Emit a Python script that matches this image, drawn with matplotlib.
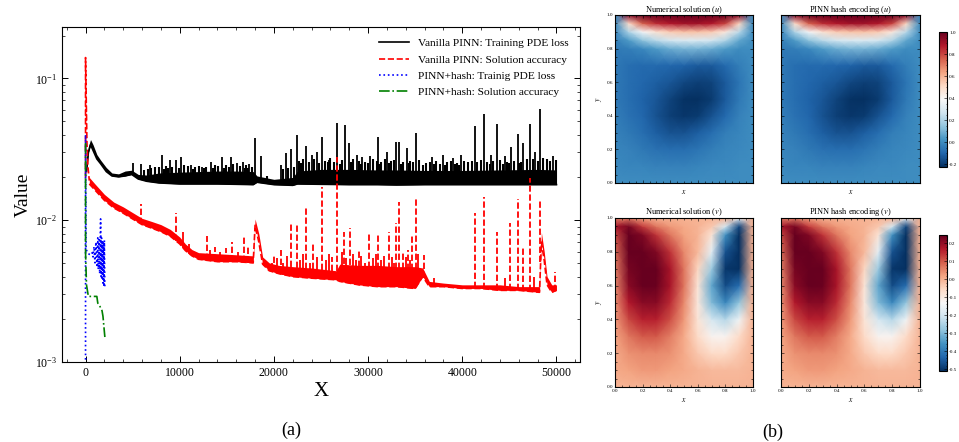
import numpy as np
import matplotlib
matplotlib.use('Agg')
import matplotlib.pyplot as plt
import matplotlib.ticker as mticker

plt.rcParams.update({
    'font.family': 'serif',
    'font.serif': ['Liberation Serif', 'DejaVu Serif'],
    'mathtext.fontset': 'stix',
    'axes.linewidth': 0.8,
})

# ---------------------------------------------------------------- data (a)
# Vanilla PINN: training PDE loss (noise band + spikes)
black_x  = [100, 300, 530, 800, 1200, 1600, 2200, 2800, 3500, 4200, 4900, 5600, 6500, 7800,
            10000, 12000, 14000, 16000, 17800, 18200, 20000, 22000, 22500, 25000, 28000,
            31000, 33000, 36000, 40000, 44000, 48000, 50000]
black_lo = [0.022, 0.030, 0.034, 0.031, 0.027, 0.025, 0.022, 0.0205, 0.0202, 0.0205, 0.021,
            0.0195, 0.0188, 0.0183, 0.018, 0.018, 0.018, 0.0179, 0.0178, 0.0185, 0.0178, 0.0176,
            0.018, 0.0179, 0.0178, 0.0178, 0.0177, 0.0178, 0.0178, 0.0178, 0.0178, 0.0178]
black_hi = [0.024, 0.033, 0.037, 0.034, 0.029, 0.0265, 0.0235, 0.0215, 0.0212, 0.0222, 0.0225,
            0.021, 0.0208, 0.0215, 0.0218, 0.022, 0.0222, 0.0222, 0.022, 0.0205, 0.0194, 0.02,
            0.0222, 0.0228, 0.0228, 0.0226, 0.0226, 0.0224, 0.0224, 0.0226, 0.0228, 0.0226]
black_spike_x = [5000, 5850, 6800, 8100, 8950, 9600, 10100, 11200, 12400, 13300, 14500, 15400,
                 16100, 16700, 17400, 18000, 18600, 20700, 21300, 21800, 22400, 23400, 24000,
                 24600, 25100, 25900, 26700, 27600, 28000, 28800, 29400, 30200, 31000, 32000,
                 33000, 33300, 34100, 35100, 36800, 38000, 39000, 39900, 41300, 42300, 43000,
                 43700, 44500, 45200, 45900, 46500, 47200, 47700, 48300, 49600]
black_spike_y = [0.0252, 0.0248, 0.0244, 0.0287, 0.0265, 0.0265, 0.0278, 0.0246, 0.0236, 0.0256,
                 0.0278, 0.0278, 0.0252, 0.0255, 0.0248, 0.0378, 0.0282, 0.0244, 0.0297, 0.0316,
                 0.0397, 0.0332, 0.029, 0.0301, 0.0385, 0.0265, 0.0482, 0.0467, 0.0348, 0.029,
                 0.0278, 0.0285, 0.0385, 0.0301, 0.0355, 0.0355, 0.0321, 0.041, 0.0278, 0.029,
                 0.0275, 0.0288, 0.046, 0.0557, 0.029, 0.0475, 0.0285, 0.0327, 0.0403, 0.0348,
                 0.048, 0.03, 0.0605, 0.0283]
# dense small spikes that make up the ragged top of the band
black_fuzz_x = [6200, 6600, 7000, 7400, 7800, 8300, 8500, 8800, 9200, 9900, 10500, 10900, 11400,
                11600, 12000, 12600, 12800, 13500, 13700, 14100, 14700, 14900, 15200, 15700,
                16400, 16900, 17000, 17200, 17700, 19300, 21000, 21500, 22100, 22700, 22900,
                23100, 23700, 24300, 24800, 25400, 25700, 26000, 26400, 27000, 27200, 28200,
                28400, 29000, 29200, 29700, 30000, 30500, 30900, 31200, 31400, 31800, 32200,
                32400, 32800, 33500, 33700, 34300, 34500, 34800, 35400, 35800, 36200, 36600,
                37000, 37200, 37600, 38200, 38400, 38800, 39200, 39400, 39700, 40200, 40600,
                41000, 41600, 42000, 42600, 42900, 43300, 44000, 44300, 44800, 45000, 45500,
                46000, 46200, 46900, 47500, 48000, 48600, 49000, 49300, 49900]
black_fuzz_y = [0.0225, 0.0228, 0.0232, 0.0236, 0.0238, 0.023, 0.0242, 0.0234, 0.0238, 0.0232,
                0.0245, 0.024, 0.023, 0.0236, 0.0242, 0.0232, 0.0238, 0.0234, 0.0246, 0.024,
                0.0234, 0.0244, 0.0236, 0.0248, 0.024, 0.0232, 0.0246, 0.0235, 0.0238, 0.0205,
                0.0228, 0.0235, 0.0236, 0.0262, 0.0252, 0.0272, 0.0258, 0.0268, 0.0252, 0.0262,
                0.0255, 0.0275, 0.0258, 0.025, 0.0266, 0.0255, 0.027, 0.0262, 0.025, 0.0258,
                0.0252, 0.027, 0.0262, 0.025, 0.0255, 0.0268, 0.0252, 0.026, 0.0265, 0.025,
                0.0258, 0.0252, 0.0262, 0.0255, 0.0265, 0.0245, 0.0252, 0.0258, 0.0248, 0.0262,
                0.025, 0.0245, 0.0256, 0.0262, 0.0248, 0.0252, 0.0245, 0.026, 0.0255, 0.0262,
                0.0258, 0.0266, 0.0255, 0.0248, 0.026, 0.0265, 0.025, 0.0258, 0.0252, 0.0262,
                0.0252, 0.0256, 0.0268, 0.0272, 0.0262, 0.0275, 0.0268, 0.0262, 0.0265]

# Vanilla PINN: solution accuracy
red_head_x = [0, 0, 150, 250, 400]
red_head_y = [0.02, 0.14, 0.035, 0.024, 0.019]
red_x  = [400, 1000, 2000, 3000, 4000, 5000, 6000, 7000, 8000, 9000, 10000, 10600, 11300,
          12000, 14000, 16000, 17800, 18000, 18400, 18800, 19500, 20500, 22000, 24000, 26600,
          27000, 29000, 31000, 33000, 35000, 35800, 36500, 38000, 40000, 42000, 44000, 46000,
          48200, 48400, 48700, 49000, 49500, 50000]
red_lo = [0.018, 0.0163, 0.0138, 0.0122, 0.0112, 0.0102, 0.0093, 0.0088, 0.0083, 0.0077, 0.0068,
          0.0061, 0.0056, 0.0053, 0.0051, 0.0051, 0.005, 0.0092, 0.007, 0.0049, 0.0044, 0.0042,
          0.004, 0.0039, 0.0038, 0.0037, 0.0035, 0.0034, 0.0034, 0.0033, 0.004, 0.0034, 0.0034,
          0.0033, 0.0033, 0.0032, 0.0032, 0.0031, 0.007, 0.0052, 0.0035, 0.0031, 0.0032]
red_hi = [0.020, 0.018, 0.0152, 0.0134, 0.0124, 0.0113, 0.0103, 0.0098, 0.0093, 0.0086, 0.0076,
          0.0068, 0.0062, 0.0059, 0.0058, 0.0057, 0.0056, 0.0102, 0.008, 0.0055, 0.005, 0.0048,
          0.0047, 0.0046, 0.0044, 0.0049, 0.0048, 0.0048, 0.0047, 0.0047, 0.0046, 0.0037, 0.0036,
          0.0035, 0.0035, 0.0035, 0.0034, 0.0034, 0.0082, 0.006, 0.004, 0.0035, 0.0035]
red_spike_x = [5900, 9650, 12900, 13700, 14900, 15500, 16800, 17300, 20000, 20800, 21800, 22400,
               23400, 24200, 25100, 26200, 26700, 27400, 28100, 29000, 30100, 31000, 32200,
               33000, 33300, 33700, 34200, 34700, 35100, 35900, 41300, 42300, 43700, 45100,
               45900, 46500, 47200, 48300, 49800]
red_spike_y = [0.0131, 0.0112, 0.0077, 0.0065, 0.0064, 0.0070, 0.0076, 0.0065, 0.0058, 0.0062,
               0.0097, 0.0095, 0.0124, 0.0068, 0.017, 0.0055, 0.028, 0.0082, 0.0088, 0.0062,
               0.008, 0.0081, 0.0083, 0.0095, 0.0134, 0.006, 0.0062, 0.0078, 0.0145, 0.0057,
               0.0112, 0.0145, 0.0082, 0.0095, 0.014, 0.0065, 0.0198, 0.0138, 0.0043]
red_fuzz_x = [10400, 11000, 13200, 14300, 16200, 19000, 19800, 20300, 21000, 21400, 22800,
              23100, 23800, 24600, 25500, 25800, 27200, 27700, 28400, 28700, 29300, 29700,
              30500, 30800, 31400, 31700, 32500, 32800, 34000, 34400, 35300, 37000, 44500,
              47600]
red_fuzz_y = [0.0082, 0.0068, 0.0062, 0.0060, 0.0060, 0.0052, 0.0050, 0.0054, 0.0050, 0.0056,
              0.0052, 0.0058, 0.0050, 0.0055, 0.0052, 0.0058, 0.0060, 0.0054, 0.0058, 0.0052,
              0.0056, 0.0050, 0.0054, 0.0058, 0.0052, 0.0056, 0.0055, 0.0050, 0.0055, 0.0052,
              0.0058, 0.0039, 0.0039, 0.0040]

# PINN+hash: training PDE loss
blue_x = [0, 0, 60, 300, 500, 700, 800, 900, 1000, 1100, 1200, 1300, 1350, 1450, 1500, 1600,
          1650, 1700, 1750, 1800, 1850, 1900, 1950, 2000, 2050]
blue_y = [0.0009, 0.04, 0.0062, 0.0058, 0.0057, 0.0059, 0.0055, 0.0065, 0.005, 0.007, 0.0048,
          0.0075, 0.0045, 0.0073, 0.0042, 0.0102, 0.004, 0.0075, 0.0038, 0.0072, 0.0036, 0.007,
          0.0034, 0.0072, 0.0033]

# PINN+hash: solution accuracy
green_x = [0, 0, 100, 300, 1200, 1300, 1500, 1600, 1750, 1850, 2050]
green_y = [0.035, 0.0059, 0.0035, 0.0029, 0.0029, 0.0026, 0.0025, 0.0024, 0.0023, 0.0021, 0.0015]

# ---------------------------------------------------------------- data (b)
u_xn = [0, 0.1, 0.2, 0.3, 0.4, 0.5, 0.6, 0.7, 0.8, 0.9, 1.0]
u_yn = [0, 0.1, 0.2, 0.3, 0.4, 0.5, 0.6, 0.7, 0.8, 0.85, 0.9, 0.95, 1.0]
u_grid = [
    [0.0, 0.0, 0.0, 0.0, 0.0, 0.0, 0.0, 0.0, 0.0, 0.0, 0.0],
    [-0.01, -0.02, -0.02, -0.03, -0.03, -0.03, -0.02, -0.01, -0.01, 0.0, 0.0],
    [-0.02, -0.03, -0.05, -0.07, -0.08, -0.08, -0.06, -0.04, -0.02, -0.01, 0.0],
    [-0.03, -0.05, -0.08, -0.12, -0.15, -0.15, -0.12, -0.08, -0.04, -0.02, 0.0],
    [-0.04, -0.07, -0.10, -0.15, -0.19, -0.21, -0.20, -0.15, -0.09, -0.03, 0.0],
    [-0.05, -0.08, -0.11, -0.14, -0.18, -0.22, -0.23, -0.20, -0.13, -0.05, 0.0],
    [-0.05, -0.08, -0.10, -0.12, -0.14, -0.17, -0.19, -0.18, -0.13, -0.06, 0.0],
    [-0.05, -0.08, -0.09, -0.09, -0.10, -0.11, -0.13, -0.13, -0.09, -0.04, 0.0],
    [-0.05, -0.04, -0.01, 0.04, 0.08, 0.10, 0.10, 0.08, 0.04, 0.0, 0.0],
    [-0.04, 0.04, 0.14, 0.22, 0.28, 0.30, 0.30, 0.28, 0.20, 0.07, 0.0],
    [-0.02, 0.20, 0.38, 0.48, 0.54, 0.56, 0.56, 0.54, 0.45, 0.22, 0.0],
    [0.0, 0.50, 0.75, 0.84, 0.88, 0.90, 0.90, 0.88, 0.80, 0.52, 0.0],
    [0.0, 0.95, 1.0, 1.0, 1.0, 1.0, 1.0, 1.0, 1.0, 0.95, 0.0],
]
v_xn = [0, 0.1, 0.2, 0.3, 0.4, 0.5, 0.6, 0.7, 0.8, 0.9, 1.0]
v_yn = [0, 0.1, 0.2, 0.3, 0.4, 0.5, 0.6, 0.7, 0.8, 0.9, 0.95, 1.0]
v_grid = [
    [0.0, 0.0, 0.0, 0.0, 0.0, 0.0, 0.0, 0.0, 0.0, 0.0, 0.0],
    [0.01, 0.02, 0.03, 0.03, 0.02, 0.01, 0.0, -0.01, -0.01, -0.01, 0.0],
    [0.01, 0.04, 0.05, 0.05, 0.04, 0.01, -0.03, -0.06, -0.06, -0.03, 0.0],
    [0.02, 0.07, 0.10, 0.10, 0.06, 0.01, -0.06, -0.12, -0.12, -0.06, 0.0],
    [0.03, 0.12, 0.16, 0.16, 0.11, 0.03, -0.08, -0.20, -0.24, -0.15, 0.0],
    [0.04, 0.17, 0.21, 0.21, 0.15, 0.05, -0.09, -0.30, -0.38, -0.28, 0.0],
    [0.05, 0.21, 0.25, 0.24, 0.18, 0.07, -0.08, -0.33, -0.47, -0.42, 0.0],
    [0.06, 0.23, 0.26, 0.25, 0.18, 0.07, -0.05, -0.27, -0.50, -0.52, 0.0],
    [0.08, 0.25, 0.26, 0.22, 0.14, 0.05, -0.01, -0.17, -0.46, -0.58, 0.0],
    [0.12, 0.25, 0.22, 0.14, 0.07, 0.02, 0.0, -0.08, -0.36, -0.58, 0.0],
    [0.18, 0.23, 0.13, 0.07, 0.03, 0.01, 0.0, -0.03, -0.20, -0.48, 0.0],
    [0.05, 0.06, 0.02, 0.0, 0.0, 0.0, 0.0, 0.0, 0.0, -0.15, 0.0],
]
u_lim = (-0.227, 1.0)
v_lim = (-0.51, 0.245)
u_ticks = [1.0, 0.8, 0.6, 0.4, 0.2, 0.0, -0.2]
v_ticks = [0.2, 0.1, 0.0, -0.1, -0.2, -0.3, -0.4, -0.5]

# ---------------------------------------------------------------- figure
W, H = 959, 442
fig = plt.figure(figsize=(W / 100, H / 100), dpi=100)


def px_axes(x0, y0, x1, y1):
    return fig.add_axes([x0 / W, 1 - y1 / H, (x1 - x0) / W, (y1 - y0) / H])


ax = px_axes(62, 27, 580, 362)
ax.set_yscale('log')

# black
ax.fill_between(black_x, black_lo, black_hi, color='black', lw=0)
ax.vlines(black_fuzz_x, np.interp(black_fuzz_x, black_x, black_lo), black_fuzz_y,
          color='black', lw=1.5)
ax.vlines(black_spike_x, np.interp(black_spike_x, black_x, black_lo), black_spike_y,
          color='black', lw=1.3)
ax.plot(black_x, black_lo, color='black', lw=1.2, label='Vanilla PINN: Training PDE loss')

# red
ax.fill_between(red_x, red_lo, red_hi, color='red', lw=0)
ax.vlines(red_fuzz_x, np.interp(red_fuzz_x, red_x, red_lo), red_fuzz_y,
          color='red', lw=1.3)
ax.vlines(red_spike_x, np.interp(red_spike_x, red_x, red_lo), red_spike_y,
          color='red', lw=1.3, linestyles=(0, (3.5, 1.5)))
ax.plot(red_head_x, red_head_y, color='red', lw=1.2, ls='--')
ax.plot(red_x, red_lo, color='red', lw=1.2, ls='--', label='Vanilla PINN: Solution accuracy')

# blue / green
ax.plot(blue_x, blue_y, color='blue', lw=1.2, ls=':', label='PINN+hash: Trainig PDE loss')
ax.plot(green_x, green_y, color='green', lw=1.2, ls='-.', label='PINN+hash: Solution accuracy')

ax.set_xlim(-2500, 52500)
ax.set_ylim(1e-3, 0.23)
ax.xaxis.set_major_locator(mticker.MultipleLocator(10000))
ax.xaxis.set_minor_locator(mticker.MultipleLocator(2000))
ax.tick_params(which='both', direction='in', top=True, right=True, labelsize=8.5)
ax.tick_params(which='major', length=4, width=0.7)
ax.tick_params(which='minor', length=2, width=0.5)
ax.set_xlabel('X', fontsize=15, labelpad=2)
ax.set_ylabel('Value', fontsize=14, labelpad=2)
ax.legend(loc='upper right', frameon=False, fontsize=8.2, handlelength=2.6,
          labelspacing=0.55, borderaxespad=0.6)

fig.text(291 / W, 1 - 430 / H, '(a)', ha='center', va='center', fontsize=13)
fig.text(773 / W, 1 - 432 / H, '(b)', ha='center', va='center', fontsize=13)

# ---------------------------------------------------------------- heatmaps


def heat(rect, xn, yn, grid, lim, title, xlabels, ylabels):
    a = px_axes(*rect)
    m = a.pcolormesh(xn, yn, np.array(grid), shading='gouraud', cmap='RdBu_r',
                     vmin=lim[0], vmax=lim[1], rasterized=True)
    a.set_xlim(0, 1)
    a.set_ylim(0, 1)
    a.set_title(title, fontsize=6, pad=2)
    a.xaxis.set_major_locator(mticker.MultipleLocator(0.2))
    a.yaxis.set_major_locator(mticker.MultipleLocator(0.2))
    a.xaxis.set_minor_locator(mticker.MultipleLocator(0.05))
    a.yaxis.set_minor_locator(mticker.MultipleLocator(0.05))
    a.tick_params(which='both', direction='in', top=True, right=True, labelsize=3.7,
                  pad=1.5, width=0.4)
    a.tick_params(which='major', length=2.5)
    a.tick_params(which='minor', length=1.2)
    a.set_xlabel('$x$', fontsize=5.5, labelpad=2)
    if not xlabels:
        a.tick_params(labelbottom=False)
    if ylabels:
        a.set_ylabel('$y$', fontsize=5.5, labelpad=2)
    else:
        a.tick_params(labelleft=False)
    for s in a.spines.values():
        s.set_linewidth(0.8)
    return m


m_u = heat((615, 15, 753, 183), u_xn, u_yn, u_grid, u_lim,
           r'Numerical solution ($u$)', False, True)
heat((781, 15, 920, 183), u_xn, u_yn, u_grid, u_lim,
     r'PINN hash encoding ($u$)', False, False)
m_v = heat((615, 218, 753, 387), v_xn, v_yn, v_grid, v_lim,
           r'Numerical solution ($v$)', True, True)
heat((781, 218, 920, 387), v_xn, v_yn, v_grid, v_lim,
     r'PINN hash encoding ($v$)', True, False)

for mappable, rect, ticks in [(m_u, (939, 32, 947, 167), u_ticks),
                              (m_v, (939, 235, 947, 371), v_ticks)]:
    cax = px_axes(*rect)
    cb = fig.colorbar(mappable, cax=cax, ticks=ticks)
    cb.ax.yaxis.set_major_formatter(mticker.FormatStrFormatter('%.1f'))
    cb.ax.minorticks_on()
    cb.ax.tick_params(which='both', direction='in', labelsize=3.7, pad=1.5, width=0.4)
    cb.ax.tick_params(which='major', length=2)
    cb.ax.tick_params(which='minor', length=1)
    cb.outline.set_linewidth(0.8)

fig.savefig('out.png', dpi=100)
